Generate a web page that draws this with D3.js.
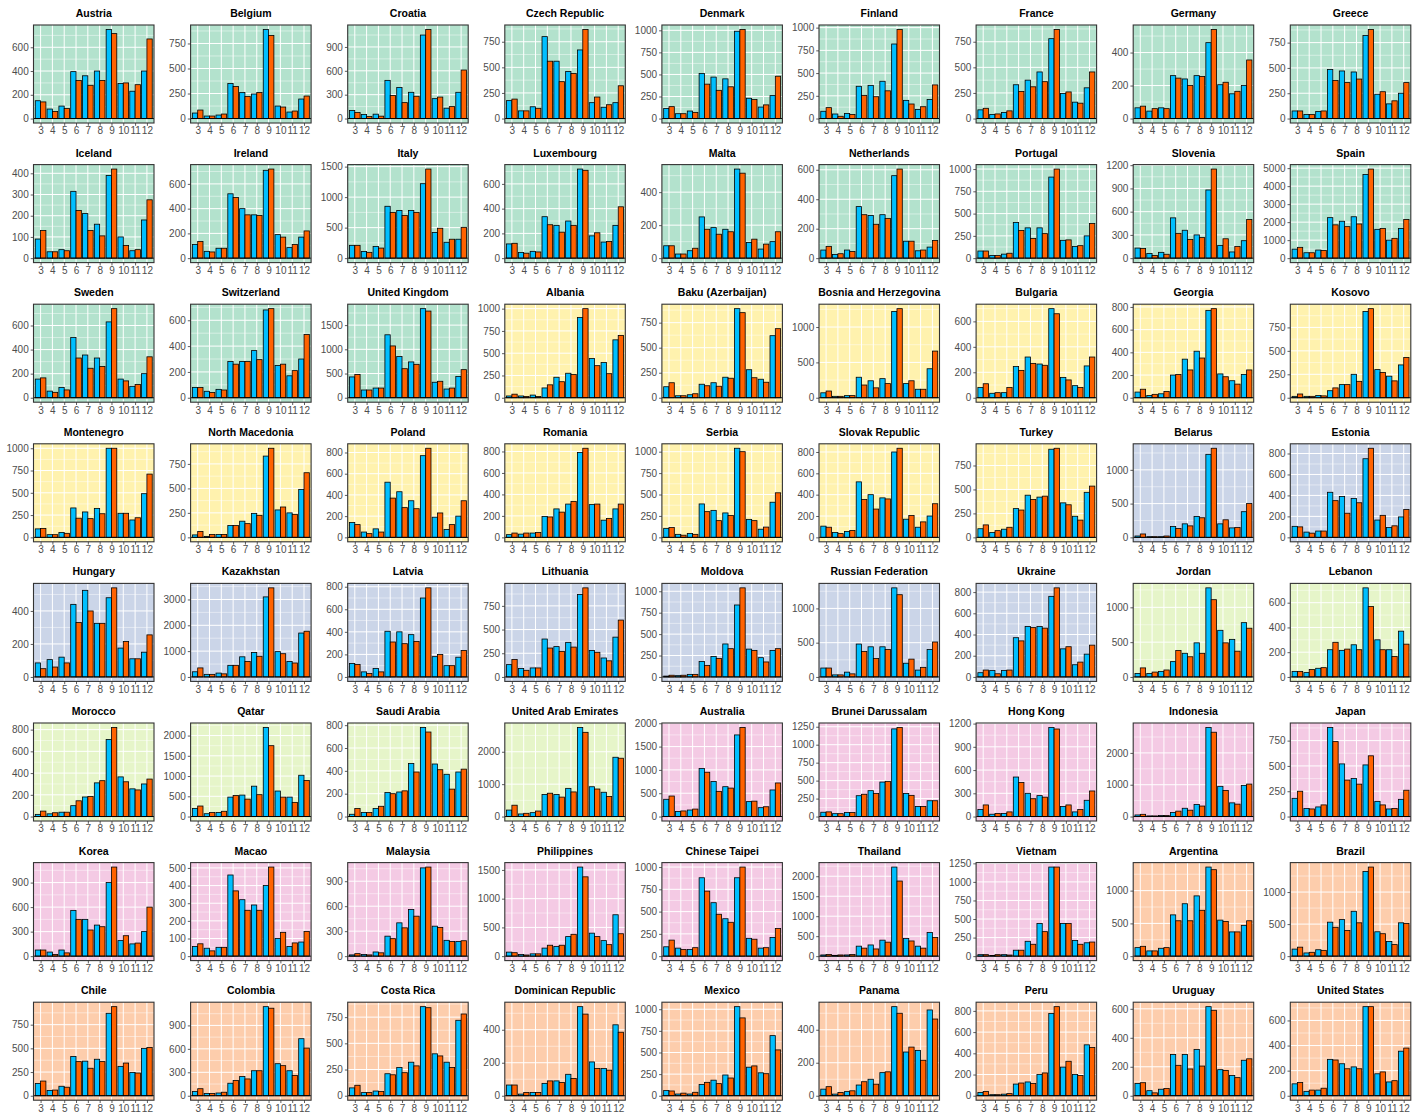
<!DOCTYPE html>
<html><head><meta charset="utf-8">
<script src="https://cdn.jsdelivr.net/npm/d3@7"></script>
<style>body{margin:0;background:#fff}svg{display:block}</style>
</head><body>
<script>
const months = [3,4,5,6,7,8,9,10,11,12];
const countries = ["Austria","Belgium","Croatia","Czech Republic","Denmark","Finland","France","Germany","Greece",
"Iceland","Ireland","Italy","Luxembourg","Malta","Netherlands","Portugal","Slovenia","Spain",
"Sweden","Switzerland","United Kingdom","Albania","Baku (Azerbaijan)","Bosnia and Herzegovina","Bulgaria","Georgia","Kosovo",
"Montenegro","North Macedonia","Poland","Romania","Serbia","Slovak Republic","Turkey","Belarus","Estonia",
"Hungary","Kazakhstan","Latvia","Lithuania","Moldova","Russian Federation","Ukraine","Jordan","Lebanon",
"Morocco","Qatar","Saudi Arabia","United Arab Emirates","Australia","Brunei Darussalam","Hong Kong","Indonesia","Japan",
"Korea","Macao","Malaysia","Philippines","Chinese Taipei","Thailand","Vietnam","Argentina","Brazil",
"Chile","Colombia","Costa Rica","Dominican Republic","Mexico","Panama","Peru","Uruguay","United States"];
const regions = ["W","W","W","W","W","W","W","W","W",
"W","W","W","W","W","W","W","W","W",
"W","W","W","E","E","E","E","E","E",
"E","E","E","E","E","E","E","C","C",
"C","C","C","C","C","C","C","M","M",
"M","M","M","M","A","A","A","A","A",
"A","A","A","A","A","A","A","L","L",
"L","L","L","L","L","L","L","L","L"];
const regionColors = {W:"#B3E2CD",E:"#FFF2AE",C:"#CBD5E8",M:"#E6F5C9",A:"#F4CAE4",L:"#FDCDAC"};
const tickSteps = [200,250,300,250,250,250,250,200,250,
100,200,500,200,200,200,250,300,1000,
200,200,500,250,250,500,200,200,250,
250,250,200,200,250,200,250,500,200,
200,1000,200,250,250,500,200,500,200,
200,500,200,1000,500,250,300,1000,250,
300,100,300,500,250,500,250,500,500,
250,300,250,200,250,200,200,200,200];
const blueValues = [
[150,80,105,395,360,400,750,295,230,400],
[55,25,35,350,260,245,890,125,65,195],
[100,50,55,480,390,330,1050,250,130,330],
[175,75,115,800,560,460,670,155,110,155],
[115,55,85,510,470,450,990,230,130,260],
[80,50,55,355,365,410,820,200,100,210],
[85,40,60,330,375,455,780,245,160,300],
[65,45,65,260,240,260,460,205,150,200],
[75,40,70,485,470,460,820,240,145,250],
[90,30,40,315,210,160,390,100,35,180],
[110,55,80,520,400,350,710,190,85,170],
[210,110,190,850,780,780,1220,420,260,310],
[115,45,55,335,265,300,720,180,130,265],
[75,25,45,250,185,175,540,95,55,100],
[55,25,55,350,290,295,560,115,50,75],
[80,30,45,400,340,340,910,200,130,250],
[130,60,75,520,360,300,880,165,80,225],
[500,300,450,2250,2050,2300,4650,1600,1000,1650],
[155,55,85,500,355,330,630,155,95,200],
[80,50,65,280,280,365,680,250,170,300],
[430,160,200,1300,850,740,1840,320,180,440],
[20,20,30,110,230,275,900,440,395,650],
[110,20,30,135,150,205,890,280,185,620],
[70,20,30,290,240,270,1220,200,120,410],
[80,35,40,245,320,265,700,160,95,250],
[50,20,35,200,340,410,770,210,150,205],
[15,15,25,75,140,250,920,300,230,350],
[95,30,55,330,285,325,1000,270,195,490],
[25,10,30,120,165,245,830,280,250,490],
[140,50,80,520,430,345,770,190,75,200],
[25,30,40,195,265,310,790,305,160,265],
[105,35,45,390,315,285,1040,210,95,410],
[105,45,55,520,400,370,800,170,95,200],
[90,50,85,300,440,420,920,360,220,470],
[20,10,10,160,200,310,1230,200,140,380],
[105,50,60,430,390,370,750,165,95,195],
[85,105,120,440,525,325,480,175,110,150],
[200,100,150,450,780,950,3100,980,600,1700],
[120,45,75,405,400,375,700,180,100,175],
[130,90,95,400,320,365,870,280,200,420],
[10,15,30,180,240,385,840,325,225,310],
[130,30,70,480,440,440,1300,200,100,400],
[40,60,60,370,475,475,760,265,115,215],
[50,50,80,220,340,490,1280,670,540,780],
[45,35,70,220,215,260,720,300,220,370],
[20,25,40,100,180,310,710,365,255,300],
[200,70,100,480,530,750,2200,630,480,1020],
[20,35,70,210,215,465,780,460,370,390],
[200,80,120,680,680,870,2750,920,750,1830],
[370,110,140,1030,750,640,1750,320,190,570],
[60,40,55,290,360,480,1220,320,140,220],
[90,30,40,510,300,270,1150,130,60,210],
[50,20,30,130,260,380,2800,950,430,980],
[180,80,95,880,520,375,510,150,75,170],
[75,50,75,560,450,380,900,190,150,300],
[55,45,50,460,320,290,400,100,55,80],
[15,20,50,240,400,560,1060,360,190,175],
[70,30,40,140,170,340,1550,400,270,720],
[105,90,75,880,600,420,880,200,90,210],
[30,20,30,250,280,400,2230,440,250,590],
[20,10,20,80,200,440,1200,440,210,180],
[130,80,120,630,800,920,1360,550,370,470],
[110,50,100,530,570,700,1320,380,230,520],
[130,55,100,415,365,385,870,310,245,500],
[55,30,35,160,245,320,1140,410,320,730],
[75,30,45,210,270,320,850,400,320,720],
[65,10,20,75,90,130,540,205,165,430],
[60,20,20,130,180,240,1030,330,265,695],
[40,10,25,65,100,140,540,265,275,520],
[30,10,15,110,130,200,775,270,200,480],
[85,35,45,285,285,320,615,180,140,245],
[95,35,45,290,255,230,710,175,110,355]];
const orangeValues = [
[140,60,85,320,280,320,715,300,285,670],
[85,25,45,320,220,260,830,115,75,225],
[75,25,30,290,200,280,1120,270,150,610],
[190,75,100,560,360,440,870,210,135,320],
[135,55,70,390,320,360,1010,215,155,480],
[120,25,45,255,240,305,980,160,130,370],
[100,45,75,265,310,360,870,260,150,455],
[75,60,60,245,200,255,540,220,165,355],
[75,40,75,375,355,390,880,265,175,355],
[130,30,35,225,130,105,420,60,40,275],
[135,50,80,490,350,345,720,170,110,220],
[210,95,165,750,700,750,1460,490,310,505],
[120,40,50,270,210,265,710,205,135,415],
[75,25,60,175,145,160,515,115,85,160],
[80,30,45,295,230,270,605,115,55,120],
[80,30,55,310,220,275,1000,205,140,390],
[125,35,50,320,240,265,1150,250,150,500],
[600,300,430,1850,1750,1900,4950,1650,1100,2150],
[165,45,65,330,245,260,740,140,110,340],
[80,40,60,260,280,295,690,260,210,490],
[480,160,200,1070,600,690,1790,340,200,580],
[40,15,15,145,180,260,1000,360,270,700],
[150,20,40,120,115,195,850,200,155,690],
[95,20,30,180,140,200,1260,240,120,660],
[110,40,80,215,270,255,660,140,80,320],
[75,30,55,205,245,350,785,185,120,245],
[40,15,20,105,140,175,950,270,180,430],
[100,30,45,215,210,265,1000,270,220,710],
[60,30,30,120,140,225,910,310,235,660],
[120,35,50,370,280,270,840,230,120,345],
[40,40,45,190,235,335,830,310,175,310],
[115,25,35,300,195,255,1000,195,120,520],
[95,35,65,355,265,360,835,205,145,315],
[130,70,105,285,395,430,930,340,180,535],
[50,10,20,130,170,290,1320,260,145,500],
[100,40,60,350,230,330,850,210,110,265],
[50,60,85,330,400,325,540,215,110,255],
[350,100,120,450,600,800,3450,900,540,1770],
[110,30,45,310,295,315,790,200,100,235],
[185,70,95,305,270,315,940,260,170,600],
[20,20,30,135,215,330,1040,310,175,330],
[130,30,45,370,270,400,1200,260,140,510],
[65,30,65,340,465,460,840,285,140,300],
[130,70,100,380,290,340,1110,490,370,700],
[45,60,75,280,225,220,570,220,165,265],
[50,35,40,145,185,330,820,320,245,345],
[260,100,130,520,430,540,1750,480,350,890],
[70,35,90,200,225,390,740,410,240,415],
[350,100,170,720,600,760,2600,850,620,1800],
[440,120,160,950,540,610,1910,330,210,720],
[65,40,55,310,320,490,1240,295,140,220],
[150,40,60,440,230,250,1130,150,90,330],
[70,20,30,170,200,330,2650,820,390,1020],
[250,75,115,740,360,320,600,115,80,260],
[75,20,40,450,320,360,1090,250,160,600],
[70,30,50,370,260,260,505,135,75,140],
[30,15,40,210,340,480,1070,345,175,185],
[60,20,40,190,190,380,1380,340,200,390],
[180,75,95,730,470,380,1000,190,95,310],
[40,30,40,200,180,350,1880,380,200,470],
[20,20,15,80,160,330,1200,440,160,190],
[150,80,130,540,540,700,1320,530,370,540],
[140,60,90,450,400,520,1390,350,180,510],
[155,60,90,360,290,360,940,345,240,510],
[90,30,45,195,215,320,1120,385,260,610],
[100,30,40,200,220,285,840,380,270,780],
[65,20,20,90,80,105,495,165,155,385],
[55,30,40,155,140,205,900,345,255,530],
[55,20,30,85,70,145,500,295,215,465],
[40,10,20,120,115,215,840,325,190,455],
[90,20,50,210,185,205,590,175,125,255],
[105,45,60,285,215,215,710,190,120,380]];

const W = 1416, H = 1120;
const nCols = 9, colStep = 157.1, rowStep = 139.6;
const panelLeft0 = 33.5, panelW = 120.5, panelTop0 = 25, panelH = 98;
const blue = "#00BFFF", orange = "#FF6200";

const svg = d3.select("body").append("svg").attr("width", W).attr("height", H)
  .style("font-family", "'Liberation Sans', Arial, Helvetica, sans-serif");

countries.forEach((name, i) => {
  const col = i % nCols, row = Math.floor(i / nCols);
  const px = panelLeft0 + col * colStep, py = panelTop0 + row * rowStep;
  const g = svg.append("g").attr("transform", `translate(${px},${py})`);
  const bv = blueValues[i], ov = orangeValues[i];
  const maxV = d3.max(bv.concat(ov));
  const y = d3.scaleLinear().domain([-0.05 * maxV, 1.05 * maxV]).range([panelH, 0]);
  const x = d3.scaleLinear().domain([0.4, 10.6]).range([0, panelW]);
  const step = tickSteps[i];
  const majors = d3.range(0, 1.05 * maxV + 1e-9, step);
  const minors = d3.range(-step / 2, 1.05 * maxV, step).filter(v => v >= -0.05 * maxV);

  g.append("rect").attr("width", panelW).attr("height", panelH).attr("fill", regionColors[regions[i]]);
  g.selectAll(".mn").data(minors).enter().append("line")
    .attr("x1", 0).attr("x2", panelW).attr("y1", d => y(d)).attr("y2", d => y(d))
    .attr("stroke", "#fff").attr("stroke-width", 0.5).attr("stroke-opacity", 0.9);
  g.selectAll(".mj").data(majors).enter().append("line")
    .attr("x1", 0).attr("x2", panelW).attr("y1", d => y(d)).attr("y2", d => y(d))
    .attr("stroke", "#fff").attr("stroke-width", 1);
  g.selectAll(".vx").data(months).enter().append("line")
    .attr("x1", (d, k) => x(k + 1)).attr("x2", (d, k) => x(k + 1)).attr("y1", 0).attr("y2", panelH)
    .attr("stroke", "#fff").attr("stroke-width", 1);

  const bw = x(0.45) - x(0);
  g.selectAll(".bb").data(bv).enter().append("rect")
    .attr("x", (d, k) => x(k + 1) - bw).attr("width", bw)
    .attr("y", d => y(d)).attr("height", d => y(0) - y(d))
    .attr("fill", blue).attr("stroke", "#000").attr("stroke-width", 0.8);
  g.selectAll(".ob").data(ov).enter().append("rect")
    .attr("x", (d, k) => x(k + 1)).attr("width", bw)
    .attr("y", d => y(d)).attr("height", d => y(0) - y(d))
    .attr("fill", orange).attr("stroke", "#000").attr("stroke-width", 0.8);
  g.append("line").attr("x1", 0).attr("x2", panelW).attr("y1", y(0)).attr("y2", y(0))
    .attr("stroke", "#000").attr("stroke-width", 1);

  g.append("rect").attr("width", panelW).attr("height", panelH)
    .attr("fill", "none").attr("stroke", "#333").attr("stroke-width", 1.1);

  const ya = d3.axisLeft(y).tickValues(majors).tickSize(2.8).tickPadding(2).tickFormat(d3.format("d"));
  const yg = g.append("g").call(ya);
  yg.select(".domain").remove();
  yg.selectAll("line").attr("stroke", "#333").attr("stroke-width", 0.8);
  yg.selectAll("text").attr("fill", "#4D4D4D").style("font-size", "10px");

  const xa = d3.axisBottom(x).tickValues(d3.range(1, 11)).tickSize(2.8).tickPadding(1.5)
    .tickFormat(k => months[k - 1]);
  const xg = g.append("g").attr("transform", `translate(0,${panelH})`).call(xa);
  xg.select(".domain").remove();
  xg.selectAll("line").attr("stroke", "#333").attr("stroke-width", 0.8);
  xg.selectAll("text").attr("fill", "#4D4D4D").style("font-size", "10px");

  g.append("text").attr("x", panelW / 2).attr("y", -8).attr("text-anchor", "middle")
    .style("font-size", "10.5px").style("font-weight", "bold").attr("fill", "#000").text(name);
});
</script>
</body></html>
